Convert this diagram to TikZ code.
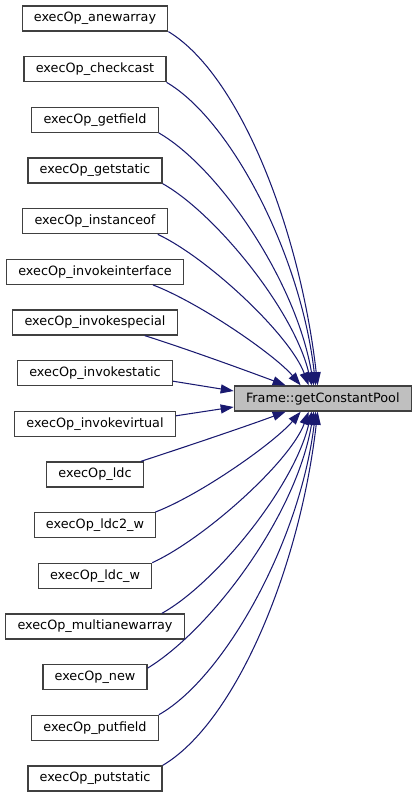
\documentclass[tikz,border=0pt]{standalone}
\usepackage{fontspec}
\setmainfont{DejaVu Sans}
\usetikzlibrary{arrows.meta}
\definecolor{edgeblue}{RGB}{25,25,112}
\definecolor{boxline}{RGB}{64,64,64}
\definecolor{tgtfill}{RGB}{191,191,191}
\begin{document}
\begin{tikzpicture}[x=1pt,y=-1pt,
  fn/.style={draw=boxline, line width=1.3pt, fill=white, minimum height=25pt, inner xsep=11.7pt, inner ysep=0pt, font=\fontsize{12.8}{15}\selectfont},
  tgt/.style={fn, fill=tgtfill},
  call/.style={draw=edgeblue, line width=1.05pt, -{Triangle[length=13pt,width=9pt]}}]
\useasboundingbox (0,0) rectangle (417,797);
\node[fn] (n1) at (95,18.5) {execOp\_anewarray};
\node[fn] (n2) at (95,69.2) {execOp\_checkcast};
\node[fn] (n3) at (95,119.8) {execOp\_getfield};
\node[fn] (n4) at (95,170.5) {execOp\_getstatic};
\node[fn] (n5) at (95,221.2) {execOp\_instanceof};
\node[fn] (n6) at (95,271.8) {execOp\_invokeinterface};
\node[fn] (n7) at (95,322.5) {execOp\_invokespecial};
\node[fn] (n8) at (95,373.2) {execOp\_invokestatic};
\node[fn] (n9) at (95,423.8) {execOp\_invokevirtual};
\node[fn] (n10) at (95,474.5) {execOp\_ldc};
\node[fn] (n11) at (95,525.2) {execOp\_ldc2\_w};
\node[fn] (n12) at (95,575.8) {execOp\_ldc\_w};
\node[fn] (n13) at (95,626.5) {execOp\_multianewarray};
\node[fn] (n14) at (95,677.2) {execOp\_new};
\node[fn] (n15) at (95,727.8) {execOp\_putfield};
\node[fn] (n16) at (95,778.5) {execOp\_putstatic};
\node[tgt] (t) at (322.8,398.5) {Frame::getConstantPool};
% top group
\draw[call] (n1.south east) .. controls (240,75) and (300,230) .. ([xshift=84pt]t.north west);
\draw[call] (n2.south east) .. controls (231,120) and (301,255) .. ([xshift=82pt]t.north west);
\draw[call] (n3.south east) .. controls (218,167) and (296,280) .. ([xshift=80pt]t.north west);
\draw[call] (n4.south east) .. controls (215,213) and (294,310) .. ([xshift=78pt]t.north west);
\draw[call] ([xshift=-10pt]n5.south east) .. controls (208,258) and (290,335) .. ([xshift=75pt]t.north west);
\draw[call] ([xshift=-31pt]n6.south east) .. controls (200,303) and (275,355) .. ([xshift=67pt]t.north west);
\draw[call] ([xshift=-33pt]n7.south east) .. controls (190,350) and (250,372) .. ([xshift=52pt]t.north west);
\draw[call] ([yshift=-8pt]n8.east) -- ([yshift=7.5pt]t.west);
\draw[call] ([yshift=8pt]n9.east) -- ([yshift=-8.5pt]t.west);
% bottom group
\draw[call] ([xshift=-3pt]n10.north east) .. controls (185,447) and (250,425) .. ([xshift=52pt]t.south west);
\draw[call] ([xshift=-1pt]n11.north east) .. controls (202,494) and (275,442) .. ([xshift=67pt]t.south west);
\draw[call] (n12.north east) .. controls (204,539) and (290,462) .. ([xshift=75pt]t.south west);
\draw[call] ([xshift=-23pt]n13.north east) .. controls (215,584) and (294,487) .. ([xshift=78pt]t.south west);
\draw[call] ([yshift=-4pt]n14.north east) .. controls (210,630) and (296,517) .. ([xshift=80pt]t.south west);
\draw[call] (n15.north east) .. controls (224,678) and (300,542) .. ([xshift=82pt]t.south west);
\draw[call] (n16.north east) .. controls (236,722) and (300,567) .. ([xshift=84pt]t.south west);
\end{tikzpicture}
\end{document}
